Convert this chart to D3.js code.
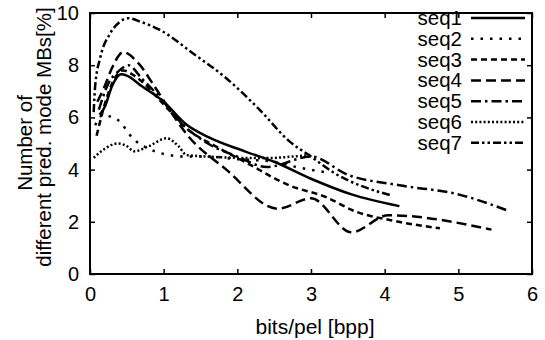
<meta charset="utf-8">
<style>
  body { margin: 0; background: #fff; }
  text { font-family: "Liberation Sans", Arial, sans-serif; fill: #000; }
</style>
<svg width="545" height="340"></svg>
<script src="https://d3js.org/d3.v7.min.js"></script>
<script>
var xTicks = [0, 1, 2, 3, 4, 5, 6];
var yTicks = [0, 2, 4, 6, 8, 10];
var names = ["seq1", "seq2", "seq3", "seq4", "seq5", "seq6", "seq7"];

var seq1 = [[0.13,6.1],[0.2,6.4],[0.3,7.2],[0.42,7.65],[0.5,7.6],[0.7,7.2],[1.0,6.6],[1.3,5.75],[1.6,5.25],[2.1,4.7],[2.5,4.3],[3.0,3.65],[3.55,3.05],[4.2,2.6]];
var seq2 = [[0.07,5.7],[0.18,6.1],[0.3,6.0],[0.42,5.8],[0.52,5.4],[0.62,5.1],[0.8,4.8],[1.0,4.6],[1.3,4.5],[1.6,4.5],[2.0,4.4],[2.5,4.3],[2.8,4.1],[3.2,3.9]];
var seq3 = [[0.09,5.3],[0.2,6.5],[0.3,7.3],[0.45,7.8],[0.6,7.6],[1.0,6.5],[1.3,5.6],[1.7,4.9],[2.1,4.3],[2.7,3.4],[3.2,2.95],[3.6,2.4],[4.1,2.05],[4.75,1.75]];
var seq4 = [[0.1,6.6],[0.2,7.2],[0.3,7.9],[0.45,8.5],[0.65,8.1],[0.85,7.3],[1.1,6.2],[1.3,5.4],[1.85,4.0],[2.55,2.5],[3.0,2.9],[3.55,1.6],[4.05,2.25],[5.45,1.7]];
var seq5 = [[0.12,6.3],[0.25,7.3],[0.4,7.8],[0.52,8.0],[0.7,7.5],[1.0,6.6],[1.2,5.9],[1.6,5.0],[2.0,4.5],[2.4,4.1],[3.0,4.5],[3.5,3.8],[4.2,3.4],[5.0,3.05],[5.7,2.4]];
var seq6 = [[0.05,4.45],[0.2,4.8],[0.38,5.0],[0.5,4.9],[0.6,4.7],[0.8,4.9],[1.04,5.2],[1.2,4.9],[1.31,4.56],[1.6,4.5],[2.0,4.45],[2.4,4.44],[2.75,4.5],[3.0,4.56]];
var seq7 = [[0.05,6.2],[0.07,7.2],[0.14,8.3],[0.27,9.2],[0.4,9.65],[0.52,9.8],[0.7,9.65],[0.95,9.35],[1.4,8.45],[1.85,7.5],[2.3,6.3],[2.7,5.1],[3.0,4.5],[3.3,3.9],[4.1,3.0]];

var series = [seq1, seq2, seq3, seq4, seq5, seq6, seq7];
var dashes = ["none", "2.5,7", "6,4", "10,5", "10,4,2.5,4", "2,2.2", "8,3,2.5,3,2.5,3"];

var svg = d3.select("svg");
var margin = {top: 13, right: 13, bottom: 66, left: 90};
var width = +svg.attr("width"), height = +svg.attr("height");

var x = d3.scaleLinear().domain([0, 6]).range([margin.left, width - margin.right]);
var y = d3.scaleLinear().domain([0, 10]).range([height - margin.bottom, margin.top]);

// inward ticks on all four sides
svg.append("g")
    .attr("transform", "translate(0," + y(0) + ")")
    .call(d3.axisBottom(x).tickValues(xTicks).tickSize(-5).tickPadding(13).tickFormat(d3.format("d")))
    .call(function(g) { g.select(".domain").remove(); });
svg.append("g")
    .attr("transform", "translate(0," + y(10) + ")")
    .call(d3.axisTop(x).tickValues(xTicks).tickSize(-5).tickFormat(""))
    .call(function(g) { g.select(".domain").remove(); });
svg.append("g")
    .attr("transform", "translate(" + x(0) + ",0)")
    .call(d3.axisLeft(y).tickValues(yTicks).tickSize(-5).tickPadding(11))
    .call(function(g) { g.select(".domain").remove(); });
svg.append("g")
    .attr("transform", "translate(" + x(6) + ",0)")
    .call(d3.axisRight(y).tickValues(yTicks).tickSize(-5).tickFormat(""))
    .call(function(g) { g.select(".domain").remove(); });

svg.selectAll(".tick line").attr("stroke", "#000").attr("stroke-width", 1.5);
svg.selectAll(".tick text").attr("font-size", "20px").attr("font-family", "Liberation Sans, Arial, sans-serif").attr("fill", "#000");

svg.append("rect")
    .attr("x", x(0)).attr("y", y(10))
    .attr("width", x(6) - x(0)).attr("height", y(0) - y(10))
    .attr("fill", "none").attr("stroke", "#000").attr("stroke-width", 2);

var line = d3.line()
    .x(function(d) { return x(d[0]); })
    .y(function(d) { return y(d[1]); })
    .curve(d3.curveMonotoneX);

svg.append("g")
  .selectAll("path")
  .data(series)
  .enter().append("path")
    .attr("d", line)
    .attr("fill", "none")
    .attr("stroke", "#000")
    .attr("stroke-width", 2.5)
    .attr("stroke-dasharray", function(d, i) { return dashes[i]; });

// legend
var leg = svg.append("g");
names.forEach(function(n, i) {
  var ly = 18 + i * 20.8;
  leg.append("text")
     .attr("x", 462).attr("y", ly + 7)
     .attr("text-anchor", "end")
     .attr("font-size", "20.5px")
     .text(n);
  leg.append("line")
     .attr("x1", 471).attr("x2", 525)
     .attr("y1", ly).attr("y2", ly)
     .attr("stroke", "#000").attr("stroke-width", 2.5)
     .attr("stroke-dasharray", dashes[i]);
});

svg.append("text")
    .attr("x", (x(0) + x(6)) / 2 + 4).attr("y", 334)
    .attr("text-anchor", "middle")
    .attr("font-size", "21px")
    .text("bits/pel [bpp]");

svg.append("text")
    .attr("transform", "translate(32,143) rotate(-90)")
    .attr("text-anchor", "middle")
    .attr("font-size", "20.5px")
    .text("Number of");
svg.append("text")
    .attr("transform", "translate(51,137) rotate(-90)")
    .attr("text-anchor", "middle")
    .attr("font-size", "20.5px")
    .text("different pred. mode MBs[%]");
</script>
